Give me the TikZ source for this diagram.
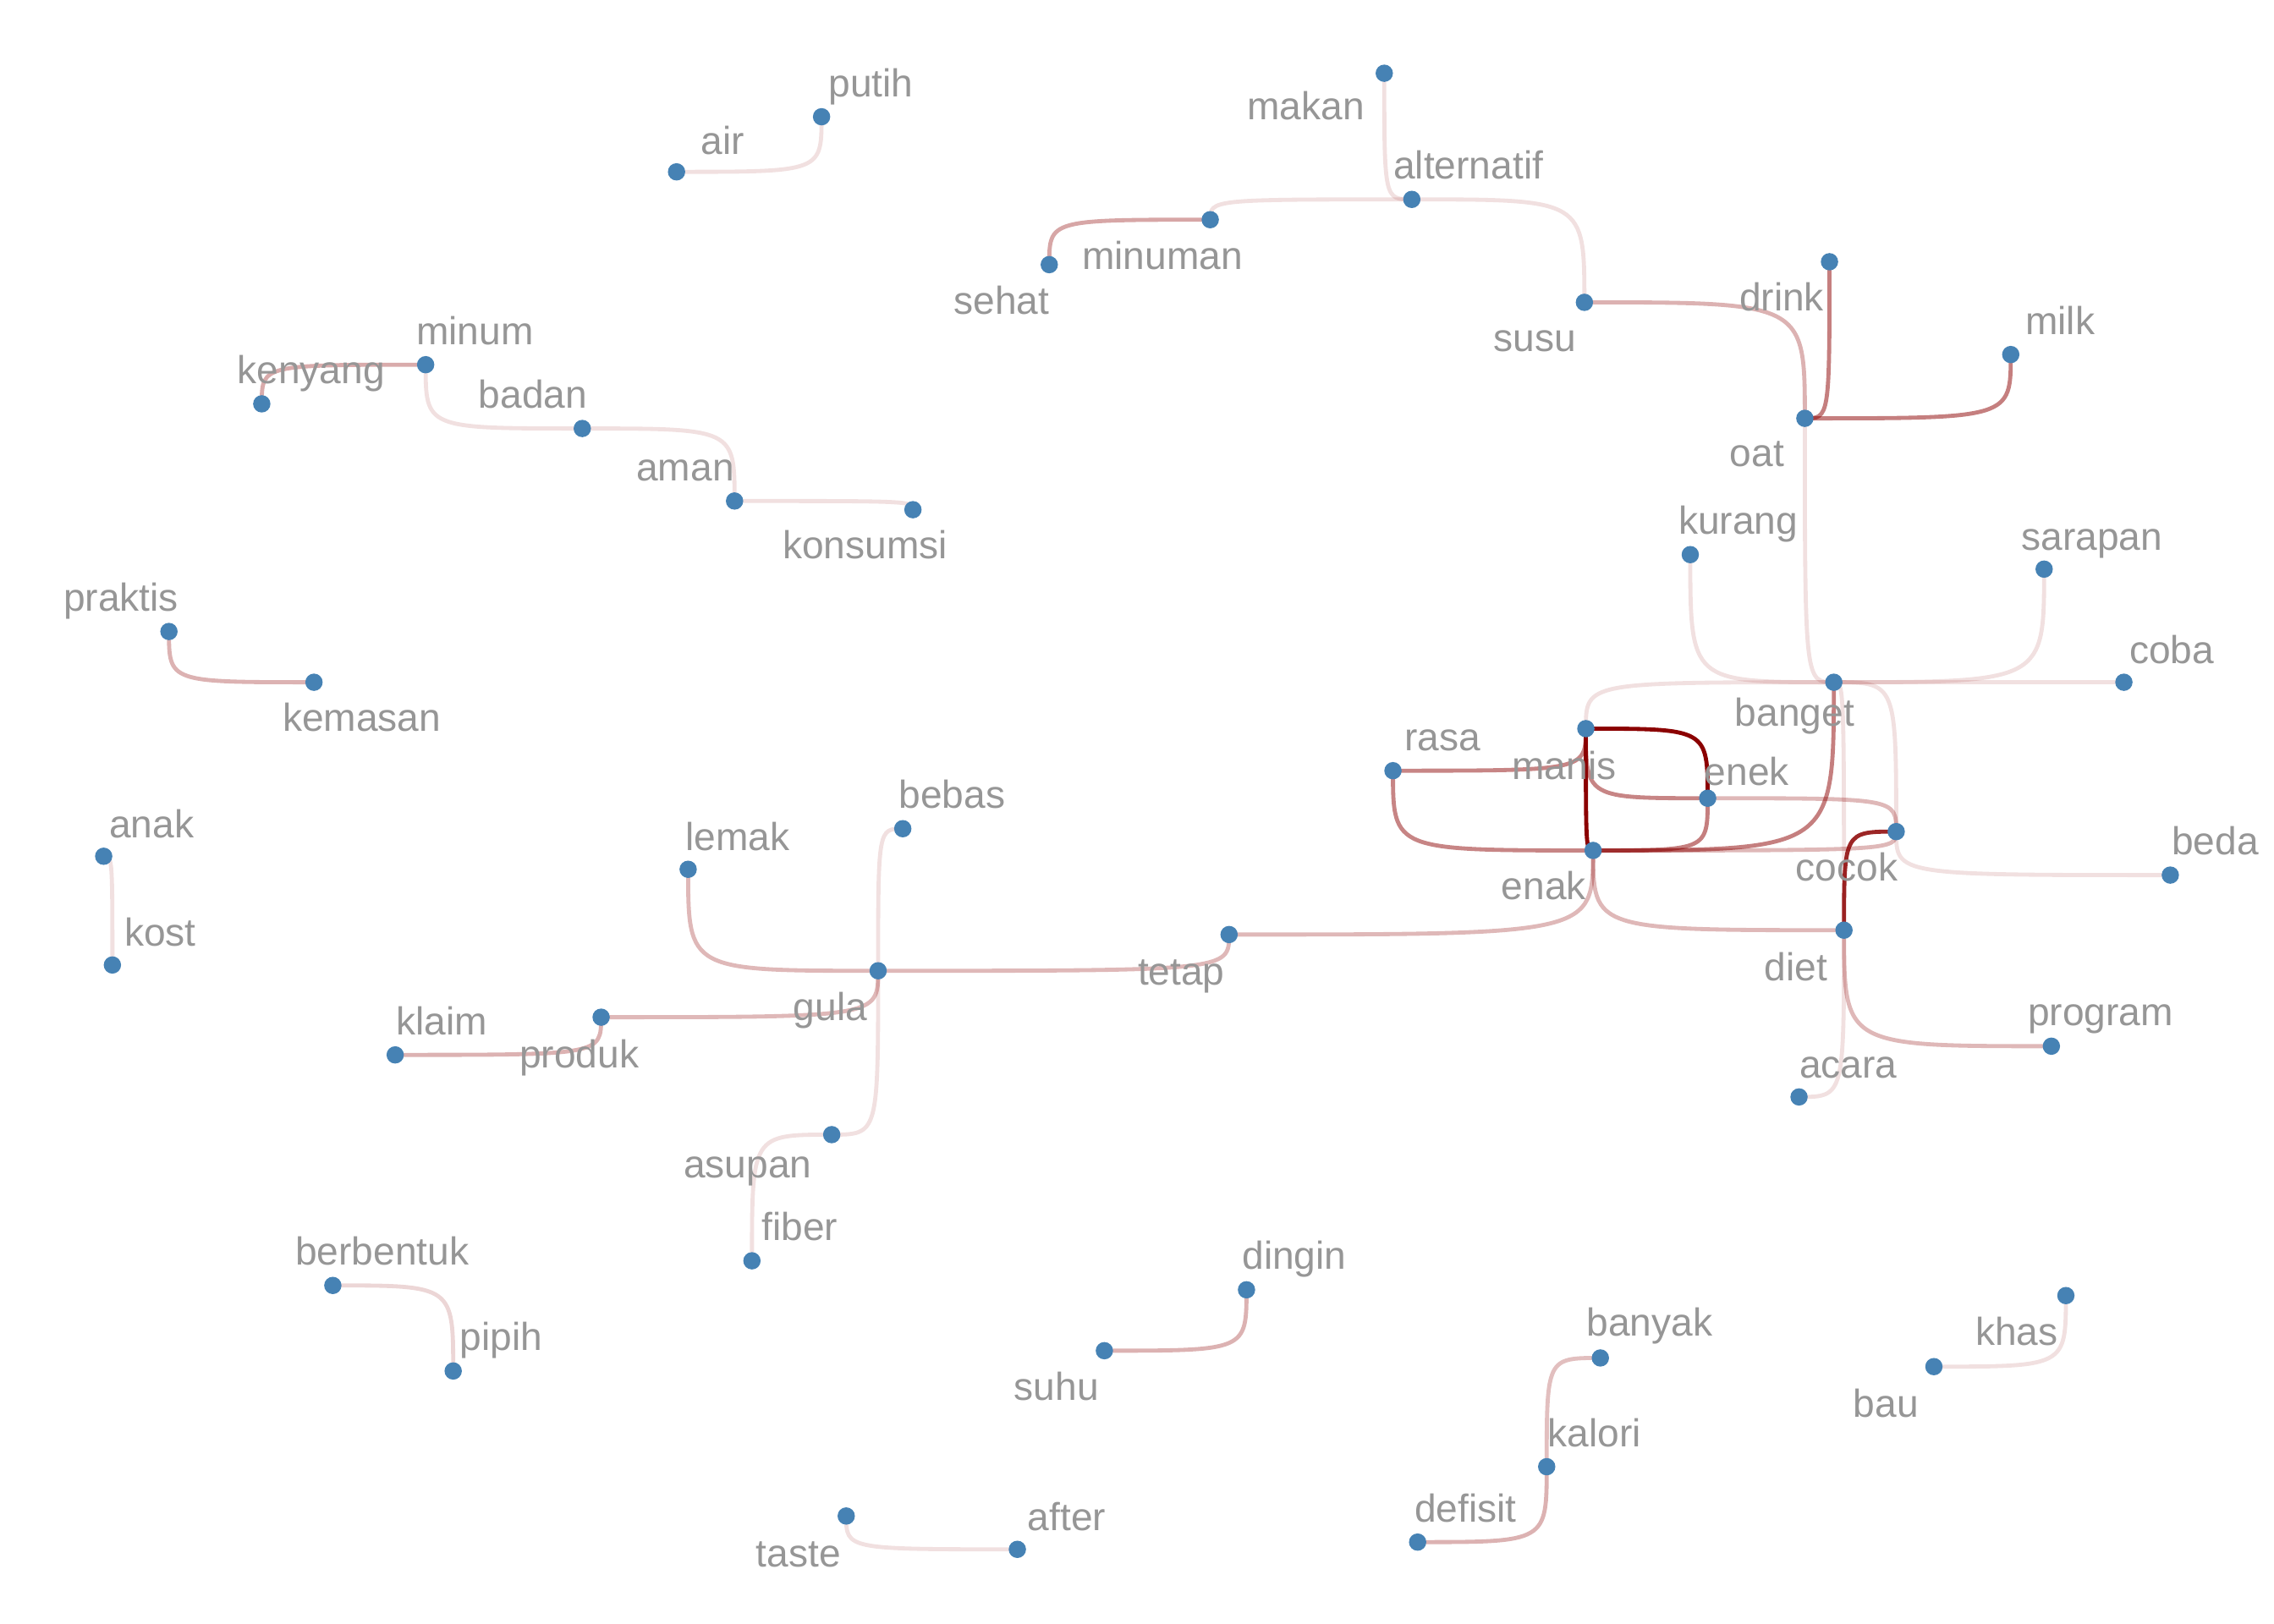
\documentclass[tikz,border=0pt]{standalone}
\usepackage{fontspec}
\setmainfont{Liberation Sans}
\pgfdeclarelayer{bg}
\pgfsetlayers{bg,main}
\definecolor{dkred}{RGB}{139,0,0}
\definecolor{steel}{RGB}{70,130,180}
\definecolor{lbl}{RGB}{150,150,150}
\newcommand\elb[3]{\draw[edge,draw opacity=#3] (#1.center) .. controls (#1.center |- #2.center) and (#1.center |- #2.center) .. (#2.center);}
\newcommand\wnode[5]{\node[dot] (#1) at (#2+0.5,#3+0.5) {}; \node[lab] (#1-l) at (#4+0.5,#5+0.5) {#1};}
\begin{document}
\begin{tikzpicture}[x=0.01cm,y=-0.01cm,
  dot/.style={circle,fill=steel,inner sep=0pt,minimum size=3.4pt},
  lab/.style={anchor=base,inner sep=0pt,text=lbl,font=\fontsize{7.65pt}{9pt}\selectfont},
  edge/.style={draw=dkred,line width=0.8pt}]
\useasboundingbox (0,0) rectangle (1568,1120);
\wnode{putih}{566}{80}{600}{66}
\wnode{air}{466}{118}{498}{106}
\wnode{makan}{954}{50}{900}{82}
\wnode{alternatif}{973}{137}{1012}{123}
\wnode{minuman}{834}{151}{801}{185}
\wnode{sehat}{723}{182}{690}{216}
\wnode{susu}{1092}{208}{1058}{242}
\wnode{drink}{1261}{180}{1228}{214}
\wnode{milk}{1386}{244}{1420}{230}
\wnode{oat}{1244}{288}{1211}{321}
\wnode{minum}{293}{251}{327}{237}
\wnode{kenyang}{180}{278}{214}{264}
\wnode{badan}{401}{295}{367}{281}
\wnode{aman}{506}{345}{472}{331}
\wnode{konsumsi}{629}{351}{596}{385}
\wnode{kurang}{1165}{382}{1198}{368}
\wnode{sarapan}{1409}{392}{1442}{379}
\wnode{praktis}{116}{435}{83}{421}
\wnode{kemasan}{216}{470}{249}{504}
\wnode{coba}{1464}{470}{1497}{457}
\wnode{banget}{1264}{470}{1237}{500}
\wnode{rasa}{960}{531}{994}{517}
\wnode{manis}{1093}{502}{1078}{537}
\wnode{enek}{1177}{550}{1204}{541}
\wnode{cocok}{1307}{573}{1273}{607}
\wnode{beda}{1496}{603}{1527}{589}
\wnode{enak}{1098}{586}{1064}{620}
\wnode{bebas}{622}{571}{656}{557}
\wnode{lemak}{474}{599}{508}{586}
\wnode{anak}{71}{590}{104}{577}
\wnode{kost}{77}{665}{110}{652}
\wnode{tetap}{847}{644}{814}{679}
\wnode{diet}{1271}{641}{1238}{676}
\wnode{gula}{605}{669}{572}{703}
\wnode{klaim}{272}{727}{304}{713}
\wnode{produk}{414}{701}{399}{736}
\wnode{program}{1414}{721}{1448}{707}
\wnode{acara}{1240}{756}{1274}{743}
\wnode{asupan}{573}{782}{515}{812}
\wnode{fiber}{518}{869}{551}{855}
\wnode{berbentuk}{229}{886}{263}{872}
\wnode{pipih}{312}{945}{345}{931}
\wnode{dingin}{859}{889}{892}{875}
\wnode{suhu}{761}{931}{728}{965}
\wnode{banyak}{1103}{936}{1137}{921}
\wnode{khas}{1424}{893}{1390}{927}
\wnode{bau}{1333}{942}{1300}{977}
\wnode{kalori}{1066}{1011}{1099}{997}
\wnode{defisit}{977}{1063}{1010}{1049}
\wnode{taste}{583}{1045}{550}{1080}
\wnode{after}{701}{1068}{735}{1055}
\begin{pgfonlayer}{bg}
\elb{putih}{air}{0.12}
\elb{makan}{alternatif}{0.12}
\elb{minuman}{alternatif}{0.12}
\elb{sehat}{minuman}{0.35}
\elb{susu}{alternatif}{0.12}
\elb{oat}{susu}{0.3}
\elb{drink}{oat}{0.5}
\elb{milk}{oat}{0.5}
\elb{oat}{banget}{0.12}
\elb{kurang}{banget}{0.12}
\elb{sarapan}{banget}{0.12}
\elb{coba}{banget}{0.12}
\elb{manis}{banget}{0.12}
\elb{banget}{enak}{0.5}
\elb{cocok}{banget}{0.12}
\elb{enek}{manis}{1}
\elb{manis}{enak}{1}
\elb{enek}{enak}{0.5}
\elb{manis}{rasa}{0.48}
\elb{rasa}{enak}{0.48}
\elb{manis}{enek}{0.48}
\elb{cocok}{enek}{0.28}
\elb{cocok}{enak}{0.28}
\elb{diet}{cocok}{0.85}
\elb{cocok}{beda}{0.12}
\elb{enak}{diet}{0.28}
\elb{enak}{tetap}{0.28}
\elb{diet}{program}{0.28}
\elb{diet}{banget}{0.12}
\elb{diet}{acara}{0.12}
\elb{tetap}{gula}{0.28}
\elb{lemak}{gula}{0.28}
\elb{gula}{bebas}{0.12}
\elb{gula}{asupan}{0.12}
\elb{gula}{produk}{0.28}
\elb{produk}{klaim}{0.3}
\elb{fiber}{asupan}{0.12}
\elb{kenyang}{minum}{0.33}
\elb{minum}{badan}{0.12}
\elb{aman}{badan}{0.12}
\elb{konsumsi}{aman}{0.12}
\elb{praktis}{kemasan}{0.3}
\elb{kost}{anak}{0.12}
\elb{pipih}{berbentuk}{0.16}
\elb{dingin}{suhu}{0.3}
\elb{kalori}{banyak}{0.25}
\elb{kalori}{defisit}{0.3}
\elb{khas}{bau}{0.12}
\elb{taste}{after}{0.12}
\end{pgfonlayer}
\end{tikzpicture}
\end{document}
